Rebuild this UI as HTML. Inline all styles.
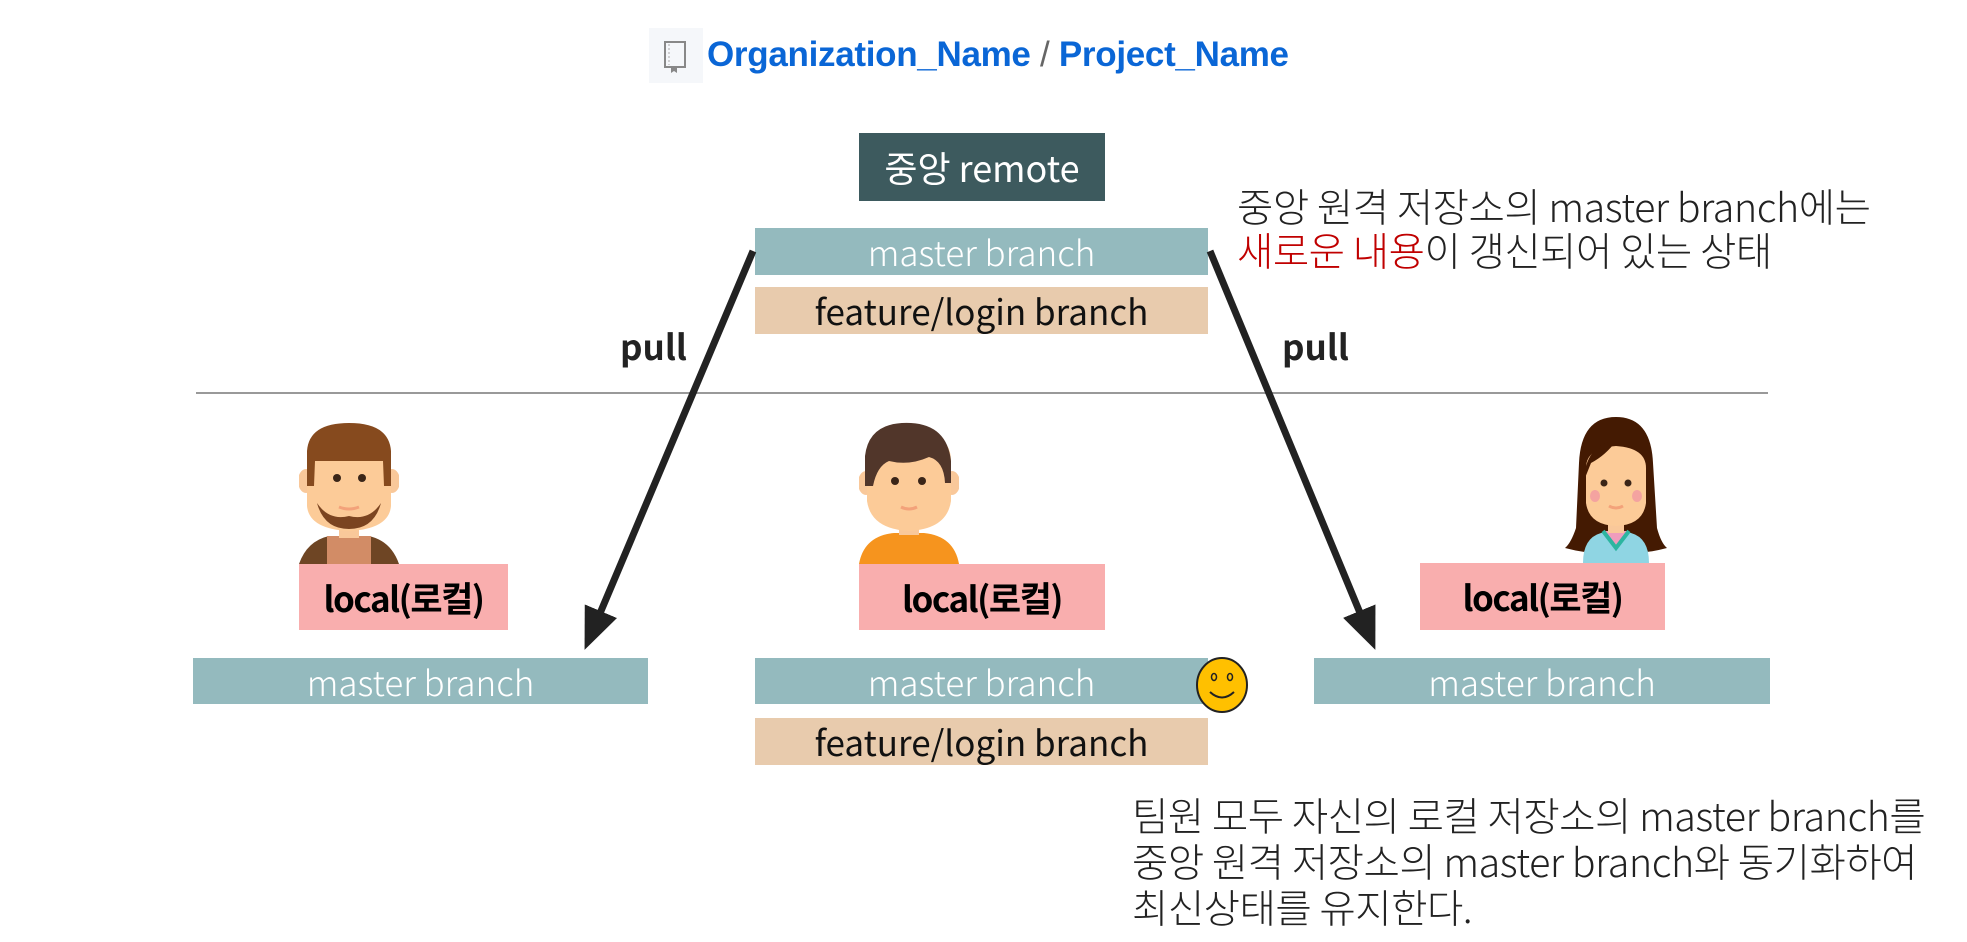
<!DOCTYPE html>
<html><head><meta charset="utf-8"><style>
body{margin:0;width:1967px;height:942px;background:#fff;position:relative;overflow:hidden;font-family:"Liberation Sans","Noto Sans CJK KR",sans-serif}
.a{position:absolute}
.box{position:absolute;display:flex;align-items:center;justify-content:center;white-space:nowrap}
.m{background:#94babe;color:#fff;font-size:35px;font-weight:300;font-family:"Noto Sans CJK KR",sans-serif}
.f{background:#e8cbad;color:#111;font-size:35px;font-weight:400;font-family:"Noto Sans CJK KR",sans-serif}
.l{background:#f9aeae;color:#000;font-size:35px;font-weight:700;font-family:"Noto Sans CJK KR",sans-serif;letter-spacing:-1.5px}
.t{position:absolute;font-family:"Noto Sans CJK KR",sans-serif;font-size:39.5px;font-weight:300;color:#222;line-height:44px;white-space:nowrap;letter-spacing:-0.5px}
</style></head><body>
<div class="a" style="left:649px;top:28px;width:54px;height:55px;background:#f5f7fa"></div>
<svg class="a" style="left:662px;top:40px" width="26" height="34" viewBox="0 0 26 34"><rect x="3" y="2" width="20" height="25" fill="none" stroke="#888" stroke-width="2"/><line x1="7" y1="4" x2="7" y2="25" stroke="#aaa" stroke-dasharray="2 2"/><path d="M9 27 v6 l3-2 3 2 v-6" fill="#888"/></svg>
<div class="a" style="left:707px;top:35px;font-size:35px;font-weight:700;color:#0a66d6;white-space:nowrap;letter-spacing:-0.3px">Organization_Name <span style="color:#666;font-weight:400">/</span> Project_Name</div>

<div class="box" style="left:859px;top:133px;width:246px;height:68px;background:#3d5a5e;color:#fff;font-size:36px;font-weight:400;font-family:'Noto Sans CJK KR',sans-serif">중앙 remote</div>
<div class="box m" style="left:755px;top:228px;width:453px;height:47px">master branch</div>
<div class="box f" style="left:755px;top:287px;width:453px;height:47px">feature/login branch</div>

<div class="t" style="left:1237px;top:184px">중앙 원격 저장소의 master branch에는<br><span style="color:#c00000">새로운 내용</span>이 갱신되어 있는 상태</div>

<div class="a" style="left:620px;top:320px;font-size:35px;font-weight:700;color:#222;font-family:'Noto Sans CJK KR',sans-serif">pull</div>
<div class="a" style="left:1282px;top:320px;font-size:35px;font-weight:700;color:#222;font-family:'Noto Sans CJK KR',sans-serif">pull</div>

<div class="a" style="left:196px;top:392px;width:1572px;height:2px;background:#999"></div>

<svg class="a" style="left:0;top:0" width="1967" height="942">
<defs><marker id="ah" markerWidth="6" markerHeight="5" refX="4" refY="2.5" orient="auto" markerUnits="strokeWidth"><path d="M0,0 L6,2.5 L0,5 Z" fill="#222"/></marker></defs>
<line x1="753" y1="251" x2="590" y2="637" stroke="#222" stroke-width="7" marker-end="url(#ah)"/>
<line x1="1210" y1="251" x2="1370" y2="637" stroke="#222" stroke-width="7" marker-end="url(#ah)"/>
</svg>

<svg class="a" style="left:299px;top:421px" width="100" height="143" viewBox="0 0 100 143">
<path d="M0 143 Q8 120 30 115 L70 115 Q92 120 100 143Z" fill="#6e4524"/>
<rect x="28" y="115" width="44" height="28" fill="#d28c66"/>
<rect x="40" y="95" width="20" height="22" fill="#f9c89a"/>
<ellipse cx="7" cy="60" rx="8" ry="12" fill="#f9c89a"/><ellipse cx="93" cy="60" rx="8" ry="12" fill="#f9c89a"/>
<path d="M8 35 Q8 5 50 5 Q92 5 92 35 L92 85 Q90 108 50 110 Q10 108 8 85Z" fill="#fccb98"/>
<path d="M8 65 L8 30 Q10 2 50 2 Q90 2 92 30 L92 65 L85 65 L84 40 L16 40 L15 65Z" fill="#864a1e"/>
<path d="M18 82 Q25 108 50 108 Q75 108 82 82 Q70 100 50 95 Q30 100 18 82Z" fill="#7b4420"/>
<circle cx="38" cy="57" r="4" fill="#3a2518"/><circle cx="63" cy="57" r="4" fill="#3a2518"/>
<path d="M40 86 Q50 90 60 86" stroke="#f3a27a" stroke-width="3" fill="none"/>
</svg>
<svg class="a" style="left:859px;top:421px" width="100" height="143" viewBox="0 0 100 143">
<path d="M0 143 Q5 115 35 112 L65 112 Q95 115 100 143Z" fill="#f6941e"/>
<rect x="40" y="92" width="20" height="22" fill="#f9c89a"/>
<ellipse cx="7" cy="62" rx="8" ry="12" fill="#f9c89a"/><ellipse cx="93" cy="62" rx="8" ry="12" fill="#f9c89a"/>
<path d="M8 40 Q8 10 50 10 Q92 10 92 40 L92 80 Q88 108 50 110 Q12 108 8 80Z" fill="#fccb98"/>
<path d="M6 65 L6 35 Q10 0 52 2 Q88 4 92 40 L92 62 L86 62 Q85 40 70 36 Q50 45 30 40 Q18 45 14 65Z" fill="#51362a"/>
<circle cx="36" cy="60" r="4" fill="#3a2518"/><circle cx="63" cy="60" r="4" fill="#3a2518"/>
<path d="M42 86 Q50 90 58 86" stroke="#f3a27a" stroke-width="3" fill="none"/>
</svg>
<svg class="a" style="left:1561px;top:413px" width="110" height="150" viewBox="0 0 110 150">
<path d="M55 4 Q20 4 18 50 L15 115 Q10 130 4 135 Q30 142 55 140 Q80 142 106 135 Q100 130 96 115 L92 50 Q90 4 55 4Z" fill="#441a02"/>
<path d="M22 150 Q22 125 40 120 L70 120 Q88 125 88 150Z" fill="#8fd5e3"/>
<path d="M42 118 L55 135 L68 118" fill="#ef9dbd" stroke="#2cb5a0" stroke-width="4"/>
<rect x="47" y="100" width="16" height="20" fill="#f9c89a"/>
<path d="M25 55 Q25 35 55 33 Q85 35 85 55 L85 90 Q82 112 55 113 Q28 112 25 90Z" fill="#fccb98"/>
<path d="M22 70 Q25 30 55 28 Q45 42 30 50 Z" fill="#441a02"/>
<circle cx="43" cy="70" r="3.5" fill="#3a2518"/><circle cx="67" cy="70" r="3.5" fill="#3a2518"/>
<ellipse cx="34" cy="83" rx="5" ry="6" fill="#f4a3a0"/><ellipse cx="76" cy="83" rx="5" ry="6" fill="#f4a3a0"/>
<path d="M48 93 Q55 97 62 93" stroke="#f3a27a" stroke-width="3" fill="none"/>
</svg>

<div class="box l" style="left:299px;top:564px;width:209px;height:66px">local(로컬)</div>
<div class="box l" style="left:859px;top:564px;width:246px;height:66px">local(로컬)</div>
<div class="box l" style="left:1420px;top:563px;width:245px;height:67px">local(로컬)</div>

<div class="box m" style="left:193px;top:658px;width:455px;height:46px">master branch</div>
<div class="box m" style="left:755px;top:658px;width:453px;height:46px">master branch</div>
<div class="box m" style="left:1314px;top:658px;width:456px;height:46px">master branch</div>
<div class="box f" style="left:755px;top:718px;width:453px;height:47px">feature/login branch</div>

<svg class="a" style="left:1194px;top:656px" width="56" height="58" viewBox="0 0 56 58">
<ellipse cx="28" cy="29" rx="25" ry="27" fill="#ffc000" stroke="#222" stroke-width="2"/>
<ellipse cx="20" cy="21" rx="2.5" ry="3.5" fill="none" stroke="#222" stroke-width="1.5"/><ellipse cx="36" cy="21" rx="2.5" ry="3.5" fill="none" stroke="#222" stroke-width="1.5"/>
<path d="M16 36 Q28 47 40 36" stroke="#222" stroke-width="2" fill="none"/>
</svg>

<div class="t" style="left:1132px;top:792px;line-height:46px">팀원 모두 자신의 로컬 저장소의 master branch를<br>중앙 원격 저장소의 master branch와 동기화하여<br>최신상태를 유지한다.</div>
</body></html>
